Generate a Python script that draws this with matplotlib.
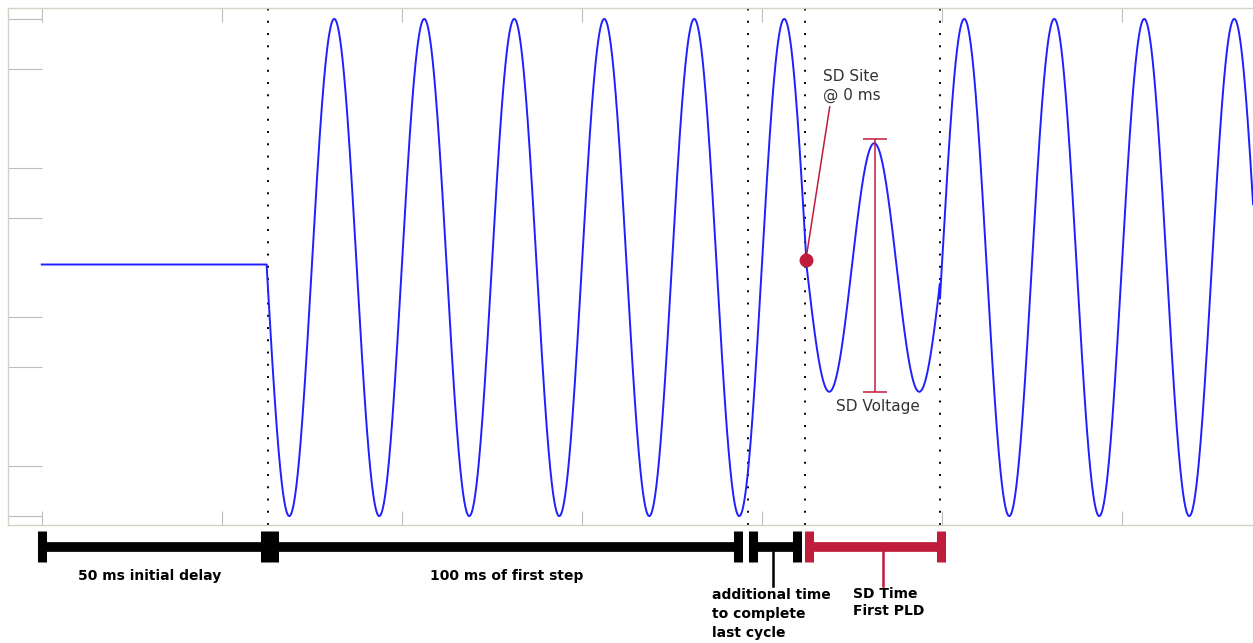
import numpy as np
import matplotlib
matplotlib.use("Agg")
import matplotlib.pyplot as plt

# waveform segments (time in ms, amplitude in per unit)
freq_hz = 50
pre_step_level = 0.012
segment_start_ms = [50.0, 170.0, 199.6]
segment_amplitude = [1.0, 0.5, 1.0]
trace_end_ms = 269.2

# dotted markers (ms)
marker_times = [50.2, 156.9, 169.6, 199.6]

# timeline bars under the plot (start, end in ms)
delay_bar = [0.0, 49.7]
step_bar = [51.6, 154.8]
extra_bar = [158.1, 167.9]
sd_bar = [170.4, 199.8]
extra_link_ms = 162.4
sd_link_ms = 186.9

# annotation values
sd_site = (169.8, 0.03)
sd_site_label = (173.6, 0.73)
sd_voltage_x = 185.1
sd_voltage_range = [-0.501, 0.517]

xticks = [0, 40, 80, 120, 160, 200, 240]
yticks = [-1.0, -0.8, -0.4, -0.2, 0.2, 0.4, 0.8, 1.0]

BLUE = "#1f1fff"
RED = "#c01c3c"
FRAME = "#d2d2c6"

W, H = 1253, 643
fig = plt.figure(figsize=(W / 100, H / 100), dpi=100)

# main axes: 4.5 px per ms, left edge at x=8 px
ax = fig.add_axes([8 / W, (H - 525) / H, 1250 / W, 517 / H])
ax.set_xlim(-7.5, -7.5 + 1250 / 4.5)
ax.set_ylim(-1.036, 1.044)

t = np.arange(0, trace_end_ms, 0.02)
v = np.full_like(t, pre_step_level)
for i, start in enumerate(segment_start_ms):
    end = segment_start_ms[i + 1] if i + 1 < len(segment_start_ms) else trace_end_ms + 1
    m = (t >= start) & (t < end)
    v[m] = -segment_amplitude[i] * np.sin(2 * np.pi * freq_hz * (t[m] - segment_start_ms[0]) / 1000)
ax.plot(t, v, color=BLUE, lw=1.4, zorder=3)

for mt in marker_times:
    ax.axvline(mt, color="black", lw=1.4, linestyle=(0, (1.0, 5.3)), zorder=2)

ax.set_xticks(xticks)
ax.set_yticks(yticks)
ax.tick_params(axis="x", direction="in", length=10, width=0.8, color="#bdbdbd",
               top=True, bottom=True, labelbottom=False)
ax.tick_params(axis="y", direction="in", length=24.5, width=0.8, color="#bdbdbd",
               left=True, right=False, labelleft=False)
for sp in ax.spines.values():
    sp.set_color(FRAME)
    sp.set_linewidth(1.0)

# SD site marker + label
ax.plot([sd_site[0], 175.1], [sd_site[1], 0.646], color=RED, lw=1.1, zorder=4)
ax.plot(*sd_site, "o", color=RED, ms=9, zorder=5)
ax.text(sd_site_label[0], sd_site_label[1], "SD Site\n@ 0 ms", ha="left", va="center",
        fontsize=11, color="#333333", linespacing=1.35)

# SD voltage range
mid = sum(sd_voltage_range) / 2
half = (sd_voltage_range[1] - sd_voltage_range[0]) / 2
ax.errorbar([sd_voltage_x], [mid], yerr=[half], color=RED, capsize=8.6,
            elinewidth=1.1, capthick=1.1, zorder=4)
ax.text(185.8, -0.561, "SD Voltage", ha="center", va="center",
        fontsize=11, color="#333333")

# timeline axes below, y in image pixels
bax = fig.add_axes([8 / W, 0, 1250 / W, (H - 525) / H])
bax.set_xlim(ax.get_xlim())
bax.set_ylim(H, 525)
bax.axis("off")


def timeline(ax_, span, color):
    ax_.plot(span, [547, 547], color=color, lw=7, solid_capstyle="butt")
    for x in span:
        ax_.plot([x, x], [531, 562], color=color, lw=6.5, solid_capstyle="butt")


timeline(bax, delay_bar, "black")
timeline(bax, step_bar, "black")
timeline(bax, extra_bar, "black")
timeline(bax, sd_bar, RED)
bax.plot([extra_link_ms, extra_link_ms], [552, 586], color="black", lw=1.8)
bax.plot([sd_link_ms, sd_link_ms], [552, 586], color=RED, lw=1.8)

bold = dict(fontsize=10, fontweight="bold", color="black")
bax.text(24.0, 576, "50 ms initial delay", ha="center", va="center", **bold)
bax.text(103.3, 576, "100 ms of first step", ha="center", va="center", **bold)
bax.text(148.9, 588, "additional time\nto complete\nlast cycle", ha="left", va="top",
         linespacing=1.45, **bold)
bax.text(180.2, 587, "SD Time\nFirst PLD", ha="left", va="top", linespacing=1.3, **bold)

fig.savefig("out.png", dpi=100, facecolor="white")
